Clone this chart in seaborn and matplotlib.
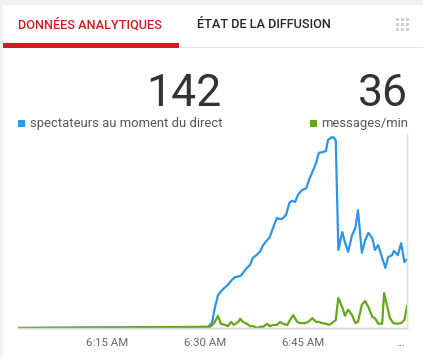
import matplotlib
matplotlib.use("Agg")
import matplotlib.pyplot as plt
from matplotlib.patches import Rectangle
import seaborn as sns
import numpy as np

# ---- data (minutes after 6:00 AM) ----
viewer_t = [1.4, 30.5, 31.1, 31.5, 32.0, 32.6, 33.1, 33.5, 34.1, 34.6, 35.4, 35.8, 36.4, 36.9,
            37.3, 38.0, 38.4, 38.9, 39.5, 39.9, 40.4, 41.0, 41.3, 41.8, 42.4, 42.9, 43.3, 43.8,
            44.2, 44.8, 45.5, 45.9, 46.4, 47.0, 47.4, 48.1, 48.5, 48.8, 49.3, 49.7, 50.0, 50.4,
            51.0, 51.4, 51.9, 52.5, 53.0, 53.4, 54.0, 54.5, 55.0, 55.6, 56.0, 56.5, 57.1, 57.6,
            58.0, 58.6, 58.9, 59.5, 60.0, 60.5, 60.9]
viewers = [0, 2, 12, 41, 68, 78, 84, 89, 99, 105, 107, 113, 124, 130,
           144, 152, 157, 171, 181, 187, 206, 227, 225, 225, 233, 258, 262, 260,
           274, 284, 288, 305, 321, 340, 361, 363, 365, 387, 393, 393, 387, 161,
           198, 177, 157, 192, 206, 243, 155, 181, 196, 185, 161, 171, 144, 124,
           146, 150, 159, 150, 175, 136, 142]

chat_t = [1.4, 30.8, 31.4, 32.0, 32.4, 33.1, 33.5, 34.0, 34.4, 35.1, 35.4, 35.8, 36.4, 36.9,
          37.3, 38.0, 38.4, 38.9, 39.5, 39.9, 40.4, 41.0, 41.5, 41.9, 42.6, 43.0, 43.5, 44.1,
          44.5, 45.3, 45.8, 46.4, 47.0, 47.4, 47.9, 48.5, 49.0, 49.4, 50.0, 50.4, 51.0, 51.4,
          51.9, 52.5, 53.0, 53.4, 54.0, 54.5, 55.0, 55.6, 56.0, 56.5, 57.1, 57.4, 57.9, 58.3,
          58.8, 59.4, 60.0, 60.5, 60.9]
chat = [0, 2, 8, 20, 7, 5, 3, 10, 5, 10, 15, 10, 7, 3,
        3, 0, 2, 2, 7, 3, 5, 5, 10, 7, 5, 13, 21, 10,
        8, 8, 10, 16, 10, 10, 8, 7, 5, 8, 13, 49, 34, 20,
        30, 21, 8, 10, 38, 44, 34, 18, 16, 7, 7, 57, 34, 16,
        8, 7, 8, 13, 36]

tick_pos = [15, 30, 45, 60]
tick_labels = ["6:15 AM", "6:30 AM", "6:45 AM", "..."]

tab_labels = ["DONNÉES ANALYTIQUES", "ÉTAT DE LA DIFFUSION"]
series_names = ["spectateurs au moment du direct", "messages/min"]
current_values = ["142", "36"]

BLUE = "#2f95e4"
GREEN = "#62a819"
RED = "#cc1f25"

sns.set_theme(style="white")
plt.rcParams["font.family"] = ["Roboto", "DejaVu Sans"]

W, H = 423, 356
fig = plt.figure(figsize=(W / 100, H / 100), dpi=100)
fig.patch.set_facecolor("#f1f1f1")

def fx(px):
    return px / W

def fy(py):
    return 1 - py / H

def frect(x0, y0, w, h, color, z):
    # x0, y0 = top-left in pixels
    r = Rectangle((fx(x0), fy(y0 + h)), w / W, h / H, transform=fig.transFigure,
                  facecolor=color, edgecolor="none", zorder=z)
    fig.add_artist(r)

# white card
frect(3, 5, W - 3, H - 5, "white", -10)
# tab separator and active underline
frect(3, 47, W - 3, 1, "#e3e3e3", -5)
frect(3, 43.5, 176, 4, RED, -4)
# grid icon
for gx in (396, 401, 406):
    for gy in (18, 23, 28):
        frect(gx, gy, 2.6, 2.6, "#cfcfcf", -4)

fig.text(fx(18), fy(25), tab_labels[0], color=RED, fontsize=9.2, fontweight="medium",
         ha="left", va="center")
fig.text(fx(197), fy(25), tab_labels[1], color="#282828", fontsize=9.2, fontweight="medium",
         ha="left", va="center")

# big numbers
fig.text(fx(221), fy(106), current_values[0], color="#333333", fontsize=32, ha="right",
         va="baseline", fontweight="normal")
fig.text(fx(408), fy(106), current_values[1], color="#333333", fontsize=32, ha="right",
         va="baseline", fontweight="normal")

# legends
frect(18, 120, 7, 7, BLUE, -4)
fig.text(fx(30), fy(124), series_names[0], color="#555555", fontsize=9.4, ha="left", va="center")
frect(310, 120, 7, 7, GREEN, -4)
fig.text(fx(408), fy(124), series_names[1], color="#555555", fontsize=9.4, ha="right", va="center")

# chart
ax = fig.add_axes([fx(18), fy(328), fx(407) - fx(18), fy(134) - fy(328)])
ax.set_zorder(5)
ax.set_facecolor("none")
sns.lineplot(x=viewer_t, y=viewers, ax=ax, color=BLUE, linewidth=1.6)
ax.set_xlim(1.4, 60.9)
ax.set_ylim(0, 400)
ax2 = ax.twinx()
ax2.set_zorder(6)
ax2.set_facecolor("none")
sns.lineplot(x=chat_t, y=chat, ax=ax2, color=GREEN, linewidth=1.6)
ax2.set_ylim(0, 317)
ax2.set_xlim(1.4, 60.9)

for a in (ax, ax2):
    a.set_yticks([])
    a.set_ylabel("")
    a.set_xlabel("")
    for s in ("top", "left"):
        a.spines[s].set_visible(False)
    a.spines["bottom"].set_color("#d8d8d8")
    a.spines["right"].set_color("#e0e0e0")
    a.spines["bottom"].set_linewidth(1)
    a.spines["right"].set_linewidth(1)
    a.grid(False)

ax.set_xticks(tick_pos)
ax.set_xticklabels(tick_labels)
ax.tick_params(axis="x", length=0, pad=7, labelsize=8.2, labelcolor="#666666")

fig.savefig("out.png", dpi=100, facecolor=fig.get_facecolor())
